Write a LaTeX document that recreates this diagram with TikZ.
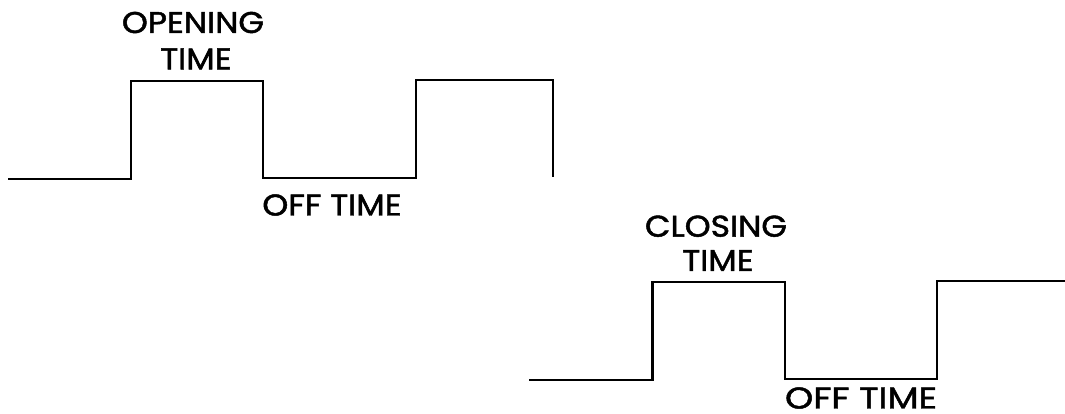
\documentclass[tikz,border=0pt]{standalone}
\usepackage{fontspec}
\setmainfont{Poppins}
\newfontfamily\lblfont{Poppins}[FakeBold=1.6,FakeStretch=1.1]
\newfontfamily\lblwidefont{Poppins}[FakeBold=1.6,FakeStretch=1.2]
\begin{document}
\begin{tikzpicture}[x=1pt,y=1pt,
  wave/.style={line width=2.2pt,black,line join=miter,line cap=butt},
  lbl/.style={inner sep=0pt,anchor=base,text depth=0pt,font=\lblfont\fontsize{30}{34}\selectfont},
  lblwide/.style={lbl,font=\lblwidefont\fontsize{30}{34}\selectfont}]
\useasboundingbox (0,0) rectangle (1065,414);
% top waveform (y = 414 - pixel y)
\draw[wave] (8,235) -- (131,235) -- (131,333) -- (263,333) -- (263,236)
  -- (416,236) -- (416,334) -- (553,334) -- (553,237);
% bottom waveform
\draw[wave] (529,34) -- (652.5,34) -- (652.5,132) -- (785,132) -- (785,35)
  -- (937,35) -- (937,133) -- (1065,133);
% labels
\node[lbl] (open1) at (193,381) {OPENING};
\node[lbl] (open2) at (196,344.7) {TIME};
\node[lbl] (off1) at (332,198.5) {OFF TIME};
\node[lbl] (close1) at (716,177.3) {CLOSING};
\node[lbl] (close2) at (718,143) {TIME};
\node[lblwide] (off2) at (861,5.5) {OFF TIME};
\end{tikzpicture}
\end{document}
